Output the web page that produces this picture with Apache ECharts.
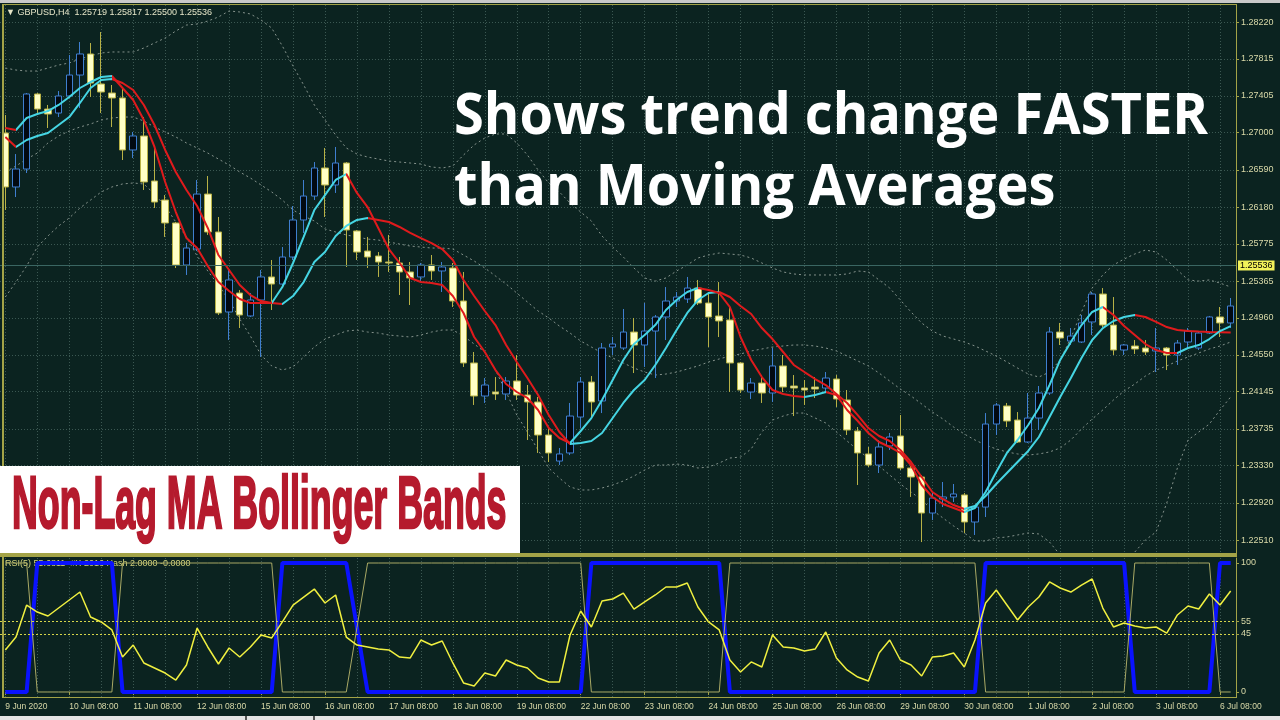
<!DOCTYPE html>
<html><head><meta charset="utf-8">
<script src="https://cdn.jsdelivr.net/npm/echarts@6/dist/echarts.min.js"></script>
<style>html,body{margin:0;padding:0;background:#0b2320;}#c{width:1280px;height:720px;}</style>
</head><body><div id="c"></div>
<script>
const DAYS = ['9 Jun','10 Jun','11 Jun','12 Jun','15 Jun','16 Jun','17 Jun','18 Jun','19 Jun','22 Jun','23 Jun','24 Jun','25 Jun','26 Jun','29 Jun','30 Jun','1 Jul','2 Jul','3 Jul','6 Jul','7 Jul'];
const X_TICK_LABELS = ['9 Jun 2020','10 Jun 08:00','11 Jun 08:00','12 Jun 08:00','15 Jun 08:00','16 Jun 08:00','17 Jun 08:00','18 Jun 08:00','19 Jun 08:00','22 Jun 08:00','23 Jun 08:00','24 Jun 08:00','25 Jun 08:00','26 Jun 08:00','29 Jun 08:00','30 Jun 08:00','1 Jul 08:00','2 Jul 08:00','3 Jul 08:00','6 Jul 08:00'];
const PRICE_TICKS = [1.22510,1.22920,1.23330,1.23735,1.24145,1.24550,1.24960,1.25365,1.25775,1.26180,1.26590,1.27000,1.27405,1.27815,1.28220];
const RSI_TICKS = [0,45,55,100];
const BID = 1.25536;

const OPEN = [
1.26997,1.26402,1.26600,1.27427,1.27261,1.27217,1.27405,1.27636,1.27868,1.27537,
1.27438,1.27383,1.26810,1.26964,1.26468,1.26258,1.26005,1.25542,1.25718,1.26324,
1.25906,1.25024,1.25233,1.24980,1.25156,1.25410,1.25332,1.25630,1.26038,1.26302,
1.26611,1.26424,1.26666,1.25917,1.25696,1.25641,1.25575,1.25564,1.25465,1.25410,
1.25542,1.25476,1.25509,1.25145,1.24462,1.24098,1.24142,1.24120,1.24263,1.24109,
1.24032,1.23668,1.23381,1.23470,1.23866,1.24252,1.24043,1.24638,1.24627,1.24803,
1.24660,1.24814,1.24969,1.25145,1.25167,1.25288,1.25123,1.24980,1.24936,1.24462,
1.24142,1.24241,1.24131,1.24429,1.24208,1.24186,1.24197,1.24186,1.24285,1.24054,
1.23712,1.23459,1.23337,1.23547,1.23657,1.23304,1.23205,1.22808,1.22962,1.22985,
1.23007,1.22709,1.22874,1.23789,1.23988,1.23833,1.23591,1.23855,1.24131,1.24803,
1.24704,1.24693,1.24914,1.25222,1.24880,1.24605,1.24649,1.24627,1.24594,1.24627,
1.24550,1.24693,1.24627,1.24792,1.24969,1.24903];
const CLOSE = [
1.26402,1.26600,1.27427,1.27261,1.27206,1.27405,1.27636,1.27868,1.27548,1.27449,
1.27383,1.26810,1.26964,1.26457,1.26236,1.26005,1.25542,1.25729,1.26324,1.25906,
1.25013,1.25377,1.24991,1.25156,1.25410,1.25332,1.25630,1.26038,1.26302,1.26611,
1.26424,1.26666,1.25928,1.25685,1.25630,1.25575,1.25564,1.25465,1.25399,1.25542,
1.25476,1.25520,1.25145,1.24462,1.24098,1.24219,1.24120,1.24263,1.24109,1.24032,
1.23668,1.23470,1.23459,1.23877,1.24252,1.24032,1.24627,1.24671,1.24803,1.24660,
1.24814,1.24969,1.25145,1.25189,1.25288,1.25123,1.24969,1.24925,1.24462,1.24164,
1.24241,1.24131,1.24429,1.24197,1.24186,1.24164,1.24175,1.24296,1.24065,1.23723,
1.23470,1.23337,1.23536,1.23646,1.23304,1.23205,1.22808,1.22973,1.22985,1.23018,
1.22709,1.22874,1.23789,1.23999,1.23822,1.23591,1.23855,1.24131,1.24803,1.24737,
1.24759,1.24903,1.25222,1.24880,1.24605,1.24660,1.24616,1.24583,1.24627,1.24550,
1.24682,1.24814,1.24792,1.24969,1.24903,1.25090];
const HIGH = [
1.27195,1.26765,1.27438,1.27438,1.27306,1.27460,1.27857,1.28000,1.27989,1.28110,
1.27526,1.27493,1.27008,1.27173,1.26843,1.26313,1.26016,1.25784,1.26479,1.26523,
1.26071,1.25487,1.25266,1.25233,1.25487,1.25597,1.25740,1.26192,1.26479,1.26677,
1.26832,1.26843,1.26677,1.25928,1.25851,1.25685,1.25873,1.25630,1.25575,1.25564,
1.25652,1.25575,1.25564,1.25465,1.24583,1.24296,1.24307,1.24307,1.24550,1.24219,
1.24087,1.23745,1.23525,1.24021,1.24307,1.24318,1.24682,1.24748,1.25057,1.24958,
1.25123,1.24991,1.25299,1.25244,1.25410,1.25377,1.25244,1.25354,1.25079,1.24473,
1.24296,1.24329,1.24627,1.24550,1.24329,1.24274,1.24307,1.24362,1.24329,1.24164,
1.23756,1.23536,1.23613,1.23690,1.23888,1.23326,1.23227,1.23029,1.23150,1.23128,
1.23029,1.22896,1.23910,1.24021,1.24021,1.23921,1.24131,1.24208,1.24858,1.24903,
1.24847,1.24991,1.25244,1.25288,1.25189,1.24671,1.24715,1.24715,1.24847,1.24638,
1.24715,1.24847,1.24803,1.24980,1.25079,1.25178];
const LOW = [
1.26148,1.26291,1.26556,1.27217,1.27052,1.27173,1.27383,1.27273,1.27394,1.27217,
1.27063,1.26699,1.26721,1.26369,1.26170,1.25851,1.25509,1.25432,1.25696,1.25873,
1.24991,1.24715,1.24847,1.24969,1.24528,1.25046,1.25299,1.25597,1.25895,1.26258,
1.26071,1.26336,1.25520,1.25597,1.25509,1.25410,1.25465,1.25211,1.25101,1.25354,
1.25377,1.25244,1.25079,1.24418,1.23999,1.24021,1.24054,1.24054,1.24054,1.23613,
1.23470,1.23370,1.23337,1.23447,1.23745,1.23866,1.23910,1.24550,1.24605,1.24351,
1.24418,1.24296,1.24715,1.25079,1.25123,1.25101,1.24638,1.24748,1.24142,1.24131,
1.24065,1.24021,1.24032,1.24142,1.23877,1.23999,1.24076,1.24131,1.23977,1.23668,
1.23117,1.23315,1.23249,1.23503,1.23282,1.22985,1.22488,1.22731,1.22874,1.22929,
1.22588,1.22566,1.22764,1.23668,1.23756,1.23580,1.23580,1.23723,1.24109,1.24660,
1.24660,1.24682,1.24770,1.24858,1.24550,1.24550,1.24561,1.24550,1.24362,1.24384,
1.24440,1.24627,1.24605,1.24781,1.24748,1.24847];

const FAST_MA = [
1.27052,1.27030,1.27162,1.27206,1.27239,1.27306,1.27394,1.27493,1.27559,1.27614,
1.27625,1.27493,1.27361,1.27140,1.26843,1.26457,1.26126,1.25839,1.25729,1.25531,
1.25354,1.25255,1.25167,1.25123,1.25123,1.25123,1.25299,1.25564,1.25851,1.26148,
1.26313,1.26479,1.26545,1.26336,1.26181,1.25950,1.25718,1.25564,1.25399,1.25354,
1.25343,1.25321,1.25200,1.25013,1.24748,1.24583,1.24384,1.24230,1.24142,1.24076,
1.23944,1.23745,1.23635,1.23580,1.23712,1.23855,1.24054,1.24274,1.24495,1.24671,
1.24770,1.24880,1.25046,1.25156,1.25244,1.25288,1.25266,1.25233,1.25079,1.24748,
1.24495,1.24307,1.24164,1.24120,1.24098,1.24087,1.24109,1.24142,1.24109,1.23944,
1.23822,1.23690,1.23591,1.23536,1.23470,1.23337,1.23117,1.22985,1.22907,1.22863,
1.22819,1.22863,1.23040,1.23260,1.23470,1.23613,1.23778,1.23966,1.24219,1.24495,
1.24693,1.24880,1.25024,1.25079,1.24991,1.24869,1.24770,1.24671,1.24605,1.24572,
1.24572,1.24627,1.24660,1.24726,1.24814,1.24869];
const SLOW_MA = [
1.26953,1.26843,1.26920,1.26964,1.26997,1.27085,1.27173,1.27328,1.27493,1.27581,
1.27592,1.27548,1.27471,1.27306,1.27085,1.26810,1.26567,1.26369,1.26192,1.25950,
1.25652,1.25487,1.25321,1.25211,1.25145,1.25123,1.25112,1.25200,1.25354,1.25575,
1.25685,1.25862,1.25972,1.26038,1.26060,1.26038,1.26016,1.25961,1.25895,1.25839,
1.25784,1.25718,1.25597,1.25377,1.25200,1.25035,1.24880,1.24660,1.24473,1.24296,
1.24109,1.23888,1.23701,1.23569,1.23580,1.23602,1.23690,1.23855,1.24021,1.24164,
1.24274,1.24440,1.24627,1.24825,1.25013,1.25156,1.25233,1.25244,1.25189,1.25090,
1.25002,1.24847,1.24726,1.24583,1.24440,1.24362,1.24285,1.24219,1.24120,1.24021,
1.23888,1.23745,1.23657,1.23602,1.23503,1.23370,1.23205,1.23040,1.22962,1.22896,
1.22852,1.22885,1.22996,1.23128,1.23249,1.23370,1.23492,1.23646,1.23866,1.24087,
1.24296,1.24517,1.24715,1.24847,1.24925,1.24969,1.24991,1.24969,1.24914,1.24858,
1.24825,1.24814,1.24808,1.24803,1.24801,1.24799];

const BB_UPPER = [
1.27713,1.27691,1.27680,1.27680,1.27713,1.27746,1.27769,1.27813,1.27846,1.27879,
1.27890,1.27890,1.27890,1.27934,1.27989,1.28044,1.28121,1.28187,1.28198,1.28231,
1.28276,1.28342,1.28331,1.28309,1.28243,1.28154,1.27956,1.27735,1.27526,1.27306,
1.27140,1.26975,1.26832,1.26765,1.26732,1.26710,1.26688,1.26677,1.26666,1.26655,
1.26622,1.26611,1.26633,1.26754,1.26865,1.26942,1.26986,1.26986,1.26887,1.26754,
1.26589,1.26446,1.26347,1.26225,1.26126,1.26027,1.25862,1.25740,1.25630,1.25509,
1.25399,1.25365,1.25399,1.25476,1.25542,1.25619,1.25652,1.25674,1.25663,1.25652,
1.25619,1.25564,1.25509,1.25465,1.25443,1.25432,1.25432,1.25432,1.25432,1.25443,
1.25476,1.25465,1.25377,1.25288,1.25156,1.25024,1.24903,1.24814,1.24759,1.24726,
1.24693,1.24649,1.24594,1.24539,1.24473,1.24406,1.24340,1.24307,1.24362,1.24495,
1.24737,1.25024,1.25288,1.25432,1.25542,1.25608,1.25663,1.25707,1.25685,1.25597,
1.25487,1.25377,1.25365,1.25377,1.25343,1.25299];
const BB_MIDDLE = [
1.26567,1.26633,1.26710,1.26776,1.26887,1.26964,1.27019,1.27063,1.27096,1.27140,
1.27162,1.27173,1.27173,1.27129,1.27063,1.27008,1.26953,1.26887,1.26832,1.26776,
1.26710,1.26644,1.26567,1.26501,1.26424,1.26347,1.26258,1.26148,1.26082,1.26027,
1.25939,1.25906,1.25873,1.25851,1.25828,1.25817,1.25795,1.25773,1.25751,1.25740,
1.25729,1.25729,1.25718,1.25652,1.25586,1.25509,1.25421,1.25332,1.25233,1.25134,
1.25035,1.24958,1.24869,1.24792,1.24704,1.24638,1.24572,1.24517,1.24462,1.24406,
1.24362,1.24329,1.24340,1.24362,1.24395,1.24429,1.24473,1.24506,1.24539,1.24561,
1.24594,1.24616,1.24638,1.24649,1.24660,1.24660,1.24649,1.24627,1.24594,1.24539,
1.24484,1.24429,1.24351,1.24263,1.24175,1.24098,1.24010,1.23921,1.23844,1.23756,
1.23679,1.23613,1.23558,1.23514,1.23481,1.23459,1.23447,1.23459,1.23481,1.23525,
1.23613,1.23734,1.23844,1.23944,1.24054,1.24153,1.24230,1.24318,1.24384,1.24429,
1.24484,1.24528,1.24572,1.24616,1.24649,1.24693];
const BB_LOWER = [
1.25189,1.25354,1.25531,1.25740,1.25862,1.25972,1.26060,1.26170,1.26258,1.26347,
1.26402,1.26435,1.26446,1.26435,1.26324,1.26192,1.26016,1.25851,1.25641,1.25476,
1.25321,1.25156,1.24947,1.24759,1.24550,1.24429,1.24384,1.24418,1.24528,1.24638,
1.24726,1.24770,1.24814,1.24825,1.24803,1.24792,1.24770,1.24759,1.24748,1.24770,
1.24803,1.24825,1.24825,1.24759,1.24671,1.24583,1.24384,1.24142,1.23888,1.23701,
1.23503,1.23304,1.23194,1.23095,1.23062,1.23062,1.23084,1.23117,1.23161,1.23216,
1.23282,1.23337,1.23337,1.23348,1.23337,1.23304,1.23315,1.23359,1.23414,1.23425,
1.23514,1.23701,1.23833,1.23877,1.23910,1.23910,1.23855,1.23800,1.23701,1.23602,
1.23503,1.23414,1.23326,1.23227,1.23128,1.23040,1.22951,1.22841,1.22753,1.22665,
1.22588,1.22500,1.22500,1.22533,1.22544,1.22566,1.22588,1.22577,1.22488,1.22345,
1.22235,1.22158,1.22125,1.22136,1.22202,1.22290,1.22378,1.22511,1.22599,1.22918,
1.23304,1.23613,1.23701,1.23789,1.23944,1.24087];

const RSI = [
32.6,42.6,67.4,62.0,58.9,65.1,71.3,77.5,58.1,54.3,
48.1,27.1,36.4,22.5,18.6,14.7,9.3,20.9,49.6,34.9,
21.7,34.1,27.1,34.9,44.2,41.9,54.3,67.4,73.6,79.8,
69.0,75.2,42.6,36.4,34.9,33.3,32.6,27.1,26.4,40.3,
36.4,39.5,22.5,7.0,4.7,14.7,12.4,24.8,20.9,18.6,
10.9,7.8,7.8,44.2,62.8,50.4,70.5,72.1,76.7,64.3,
69.8,75.2,81.4,81.4,84.5,65.9,54.3,48.1,24.8,15.5,
23.3,19.4,44.2,34.9,34.1,31.8,33.3,46.5,26.4,17.1,
11.6,8.5,30.2,40.3,24.8,20.9,12.4,27.1,27.9,30.2,
19.4,40.3,69.0,79.1,67.4,55.8,65.9,73.6,85.3,80.6,
77.5,82.9,87.6,65.1,50.4,53.5,51.2,49.6,50.4,45.7,
59.7,66.7,64.3,76.0,67.4,78.3];
const SIGNAL_UP = [
0,0,0,100,100,100,100,100,100,100,
100,0,0,0,0,0,0,0,0,0,
0,0,0,0,0,0,100,100,100,100,
100,100,100,50,0,0,0,0,0,0,
0,0,0,0,0,0,0,0,0,0,
0,0,0,0,0,100,100,100,100,100,
100,100,100,100,100,100,100,100,0,0,
0,0,0,0,0,0,0,0,0,0,
0,0,0,0,0,0,0,0,0,0,
0,0,100,100,100,100,100,100,100,100,
100,100,100,100,100,100,0,0,0,0,
0,0,0,0,100,100];
const SIGNAL_DOWN = [
100,100,100,0,0,0,0,0,0,0,
0,100,100,100,100,100,100,100,100,100,
100,100,100,100,100,100,0,0,0,0,
0,0,0,50,100,100,100,100,100,100,
100,100,100,100,100,100,100,100,100,100,
100,100,100,100,100,0,0,0,0,0,
0,0,0,0,0,0,0,0,100,100,
100,100,100,100,100,100,100,100,100,100,
100,100,100,100,100,100,100,100,100,100,
100,100,0,0,0,0,0,0,0,0,
0,0,0,0,0,0,100,100,100,100,
100,100,100,100,0,0];

// ---------- styling ----------
const BG = '#0b2320', GRID_C = '#3b5852', OLIVE = '#a3a347', LABEL_C = '#d9d9a8';
const BAND_C = '#9aa69f', CYAN = '#45d5e3', RED = '#e01a1c';
const FONT = '"Liberation Sans", Arial, sans-serif';

const N = CLOSE.length;
const CATEGORIES = [];
for (let k = 0; CATEGORIES.length < N; k++) {
  ['08:00','12:00','16:00','20:00'].forEach(h => CATEGORIES.push(DAYS[k] + ' ' + h));
  ['00:00','04:00'].forEach(h => CATEGORIES.push(DAYS[k + 1] + ' ' + h));
}
CATEGORIES.length = N;

const candleData = CLOSE.map((c, i) => [OPEN[i], c, LOW[i], HIGH[i]]);

function trendPieces(v) {
  const pieces = [];
  let start = 0, up = v[1] > v[0];
  for (let i = 1; i < v.length - 1; i++) {
    const u = v[i + 1] > v[i];
    if (u !== up) { pieces.push({ gte: start, lte: i, color: up ? CYAN : RED }); start = i; up = u; }
  }
  pieces.push({ gte: start, lte: v.length - 1, color: up ? CYAN : RED });
  return pieces;
}

const Y_MIN = 1.223673, Y_MAX = 1.284079;
const vSplit = { show: true, interval: 2, alignWithLabel: true, lineStyle: { type: [1, 2], color: GRID_C, width: 1 } };
const bandStyle = { type: [2, 3], width: 1, color: BAND_C, opacity: 0.85 };

const chart = echarts.init(document.getElementById('c'), null, { width: 1280, height: 720 });
chart.setOption({
  backgroundColor: BG,
  animation: false,
  grid: [
    { left: -1, top: 5, width: 1237, height: 548 },
    { left: -1, top: 558, width: 1237, height: 139 }
  ],
  xAxis: [
    { type: 'category', gridIndex: 0, data: CATEGORIES, boundaryGap: true,
      axisLine: { show: false }, axisTick: { show: false }, axisLabel: { show: false }, splitLine: vSplit },
    { type: 'category', gridIndex: 1, data: CATEGORIES, boundaryGap: true,
      axisLine: { show: false },
      axisTick: { show: true, interval: 5, alignWithLabel: true, length: 3, lineStyle: { color: OLIVE } },
      axisLabel: { show: true, interval: 5, align: 'left', margin: 5, color: LABEL_C, fontSize: 8.5, fontFamily: FONT,
        formatter: (v, i) => X_TICK_LABELS[Math.round(i / 6)] },
      splitLine: vSplit }
  ],
  yAxis: [
    { type: 'value', gridIndex: 0, position: 'right', min: Y_MIN, max: Y_MAX, scale: true,
      axisLine: { show: true, lineStyle: { color: OLIVE, width: 1 } },
      axisTick: { show: true, length: 3, customValues: PRICE_TICKS, lineStyle: { color: OLIVE } },
      axisLabel: { customValues: PRICE_TICKS, formatter: v => v.toFixed(5), color: LABEL_C, fontSize: 9, margin: 5, fontFamily: FONT },
      splitLine: { show: true, lineStyle: { type: [1, 2], color: GRID_C, width: 1 } } },
    { type: 'value', gridIndex: 1, position: 'right', min: -3.876, max: 103.876,
      axisLine: { show: true, lineStyle: { color: OLIVE, width: 1 } },
      axisTick: { show: true, length: 3, customValues: RSI_TICKS, lineStyle: { color: OLIVE } },
      axisLabel: { customValues: RSI_TICKS, formatter: v => String(v), color: LABEL_C, fontSize: 9, margin: 5, fontFamily: FONT },
      splitLine: { show: false } }
  ],
  visualMap: [
    { type: 'piecewise', show: false, seriesIndex: 4, dimension: 0, pieces: trendPieces(SLOW_MA) },
    { type: 'piecewise', show: false, seriesIndex: 5, dimension: 0, pieces: trendPieces(FAST_MA) }
  ],
  series: [
    { type: 'line', name: 'BB upper', data: BB_UPPER, symbol: 'none', silent: true, z: 2, lineStyle: bandStyle },
    { type: 'line', name: 'BB middle', data: BB_MIDDLE, symbol: 'none', silent: true, z: 2, lineStyle: bandStyle,
      markLine: { silent: true, symbol: 'none', precision: 5,
        lineStyle: { type: 'solid', color: '#3a6662', width: 1, opacity: 1 },
        label: { show: true, position: 'end', distance: 2, formatter: () => BID.toFixed(5), color: '#000', backgroundColor: '#f2f25a',
          padding: [1, 2, 0, 2], fontSize: 9, fontFamily: FONT },
        data: [{ yAxis: BID }] } },
    { type: 'line', name: 'BB lower', data: BB_LOWER, symbol: 'none', silent: true, z: 2, lineStyle: bandStyle },
    { type: 'candlestick', name: 'GBPUSD', data: candleData, barWidth: 7, z: 3,
      itemStyle: { color: '#020a12', color0: '#ffffc6', borderColor: '#3f7fd0', borderColor0: '#b8b246', borderWidth: 1 } },
    { type: 'line', name: 'Slow NLMA', data: SLOW_MA, symbol: 'none', z: 4, lineStyle: { width: 2 } },
    { type: 'line', name: 'Fast NLMA', data: FAST_MA, symbol: 'none', z: 5, lineStyle: { width: 2 } },
    { type: 'line', name: 'Signal up', xAxisIndex: 1, yAxisIndex: 1, data: SIGNAL_UP, symbol: 'none', z: 2,
      lineStyle: { width: 4, color: '#0a12ff' } },
    { type: 'line', name: 'Signal down', xAxisIndex: 1, yAxisIndex: 1, data: SIGNAL_DOWN, symbol: 'none', z: 3,
      lineStyle: { width: 1, color: '#a9a965' } },
    { type: 'line', name: 'RSI(5)', xAxisIndex: 1, yAxisIndex: 1, data: RSI, symbol: 'none', z: 4,
      lineStyle: { width: 1.5, color: '#f0f040' },
      markLine: { silent: true, symbol: 'none', label: { show: false },
        lineStyle: { type: [2, 2], color: '#d6d64a', width: 1 },
        data: [{ yAxis: 45 }, { yAxis: 55 }] } }
  ],
  graphic: [
    { type: 'rect', z: 50, shape: { x: 0, y: 0, width: 1280, height: 3 }, style: { fill: '#c9c9c9' } },
    { type: 'rect', z: 50, shape: { x: 2, y: 4, width: 1235, height: 1 }, style: { fill: OLIVE } },
    { type: 'rect', z: 50, shape: { x: 2, y: 4, width: 2, height: 694 }, style: { fill: OLIVE } },
    { type: 'rect', z: 50, shape: { x: 0, y: 553, width: 1237, height: 4 }, style: { fill: OLIVE } },
    { type: 'rect', z: 50, shape: { x: 2, y: 697, width: 1235, height: 1 }, style: { fill: OLIVE } },
    { type: 'rect', z: 50, shape: { x: 0, y: 716, width: 1280, height: 4 }, style: { fill: '#e4e4e4' } },
    { type: 'rect', z: 51, shape: { x: 245, y: 716, width: 2, height: 4 }, style: { fill: '#555' } },
    { type: 'rect', z: 51, shape: { x: 313, y: 716, width: 2, height: 4 }, style: { fill: '#555' } },
    { type: 'text', z: 60, x: 6, y: 12.5,
      style: { text: '\u25BC GBPUSD,H4  1.25719 1.25817 1.25500 1.25536', fill: '#e6e6c8', font: '9px ' + FONT,
        verticalAlign: 'middle', textVerticalAlign: 'middle' } },
    { type: 'text', z: 1, x: 5, y: 564,
      style: { text: 'RSI(5) 55.6811  #X 2016 Hash 2.0000 -0.0000', fill: '#d2d27a', font: '9px ' + FONT,
        verticalAlign: 'middle', textVerticalAlign: 'middle' } },
    { type: 'text', z: 100, x: 454, y: 117, scaleX: 0.935,
      style: { text: 'Shows trend change FASTER', fill: '#ffffff', font: 'bold 58px "Open Sans", sans-serif',
        verticalAlign: 'middle', textVerticalAlign: 'middle' } },
    { type: 'text', z: 100, x: 454, y: 188, scaleX: 0.935,
      style: { text: 'than Moving Averages', fill: '#ffffff', font: 'bold 58px "Open Sans", sans-serif',
        verticalAlign: 'middle', textVerticalAlign: 'middle' } },
    { type: 'rect', z: 100, shape: { x: 0, y: 466, width: 520, height: 87 }, style: { fill: '#ffffff' } },
    { type: 'text', z: 101, x: 12, y: 508, scaleX: 0.483,
      style: { text: 'Non-Lag MA Bollinger Bands', fill: '#b51a2d', stroke: '#b51a2d', lineWidth: 2.5,
        font: 'bold 74px "Liberation Sans", Arial, sans-serif', verticalAlign: 'middle', textVerticalAlign: 'middle' } }
  ]
});
</script>
</body></html>
